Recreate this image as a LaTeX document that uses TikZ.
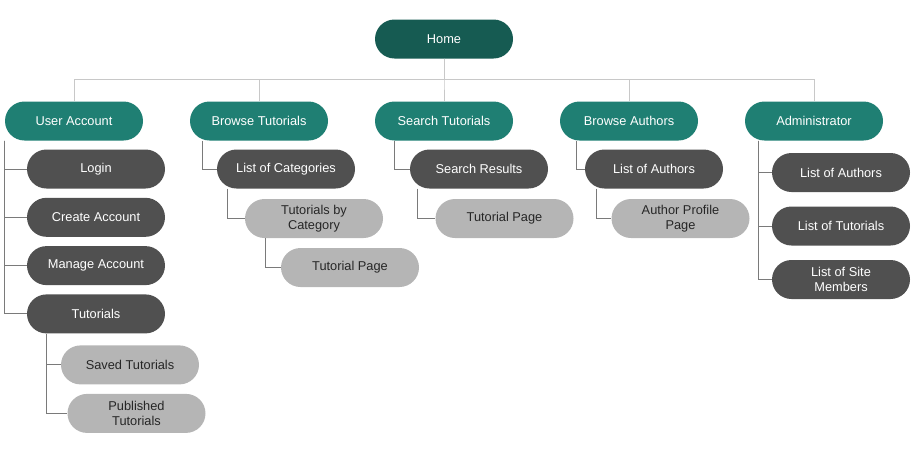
\documentclass[tikz,border=0pt]{standalone}
\usepackage{fontspec}
\setmainfont{Liberation Sans}
\usepackage{tikz}
\usetikzlibrary{positioning}
\usepackage{xcolor}
\definecolor{homeclr}{HTML}{165B52}
\definecolor{mainclr}{HTML}{1F7F73}
\definecolor{darkclr}{HTML}{505050}
\definecolor{lightclr}{HTML}{B5B5B5}
\definecolor{barclr}{HTML}{C8C8C8}
\definecolor{linkclr}{HTML}{7A7A7A}

\begin{document}
\begin{tikzpicture}[x=1pt,y=1pt,node distance=48pt,on grid]
    \tikzstyle{box}=[shape=rectangle,rounded corners=19.5pt,minimum width=138pt,minimum height=39pt,inner sep=0pt,align=center,font=\fontsize{12.8}{15}\selectfont]
    \tikzstyle{home}=[box,fill=homeclr,text=white]
    \tikzstyle{section}=[box,fill=mainclr,text=white]
    \tikzstyle{page}=[box,fill=darkclr,text=white]
    \tikzstyle{subpage}=[box,fill=lightclr,text=black!85]
    \tikzstyle{bar}=[draw=barclr,line width=1pt]
    \tikzstyle{link}=[draw=linkclr,line width=1pt]

    \useasboundingbox (0,0) rectangle (915,-472);

    \node[home] (Home) at (444,-39) {Home};
    \node[section, below=82pt of Home] (ST) {Search Tutorials};
    \node[section, left=185pt of ST] (BT) {Browse Tutorials};
    \node[section, left=185pt of BT] (UA) {User Account};
    \node[section, right=185pt of ST] (BA) {Browse Authors};
    \node[section, right=185pt of BA] (AD) {Administrator};

    % user account
    \node[page, below right=48pt and 22pt of UA] (Login) {Login};
    \node[page, below=48.3pt of Login] (Create) {Create Account};
    \node[page, below=48.3pt of Create] (Manage) {Manage Account};
    \node[page, below=48.3pt of Manage] (Tut) {Tutorials};
    \node[subpage, below right=51pt and 34pt of Tut] (Saved) {Saved Tutorials};
    \node[subpage, below right=48.5pt and 6.5pt of Saved] (Pub) {Published\\Tutorials};

    % browse tutorials
    \node[page, below right=48pt and 27pt of BT] (Cat) {List of Categories};
    \node[subpage, below right=49.5pt and 28pt of Cat] (ByCat) {Tutorials by\\Category};
    \node[subpage, below right=49pt and 36pt of ByCat] (TPage) {Tutorial Page};

    % search tutorials
    \node[page, below right=48pt and 35pt of ST] (Res) {Search Results};
    \node[subpage, below right=49.5pt and 25.5pt of Res] (TPage2) {Tutorial Page};

    % browse authors
    \node[page, below right=48pt and 25pt of BA] (Auth) {List of Authors};
    \node[subpage, below right=49.5pt and 26.5pt of Auth] (Prof) {Author Profile\\Page};

    % administrator
    \node[page, below right=51.5pt and 27pt of AD] (AAuth) {List of Authors};
    \node[page, below=53.5pt of AAuth] (ATut) {List of Tutorials};
    \node[page, below=53.5pt of ATut] (AMem) {List of Site\\Members};

    \foreach \s in {UA,BT,ST,BA,AD}
        \draw[bar] (Home.south) -- ++(0,-20.5) -| (\s.north);

    \foreach \c in {Login,Create,Manage,Tut}
        \draw[link] (UA.south west) |- (\c.west);
    \foreach \c in {Saved,Pub}
        \draw[link] ([xshift=20pt]Tut.south west) |- (\c.west);
    \draw[link] ([xshift=13pt]BT.south west) |- (Cat.west);
    \draw[link] ([xshift=11pt]Cat.south west) |- (ByCat.west);
    \draw[link] ([xshift=21pt]ByCat.south west) |- (TPage.west);
    \draw[link] ([xshift=20pt]ST.south west) |- (Res.west);
    \draw[link] ([xshift=8pt]Res.south west) |- (TPage2.west);
    \draw[link] ([xshift=17pt]BA.south west) |- (Auth.west);
    \draw[link] ([xshift=12pt]Auth.south west) |- (Prof.west);
    \foreach \c in {AAuth,ATut,AMem}
        \draw[link] ([xshift=14pt]AD.south west) |- (\c.west);

  \end{tikzpicture}
\end{document}
